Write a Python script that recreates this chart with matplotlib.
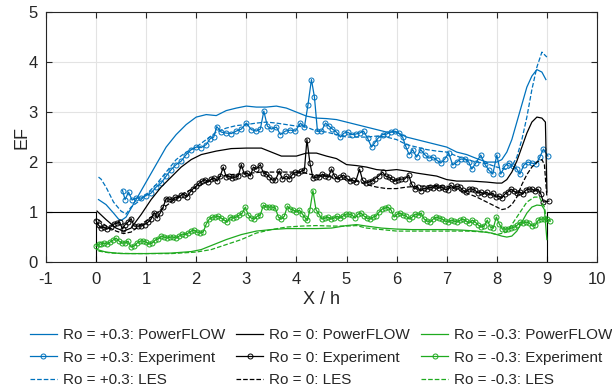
import numpy as np
import matplotlib
matplotlib.use('Agg')
import matplotlib.pyplot as plt

plt.rcParams['font.family'] = ['Liberation Sans', 'DejaVu Sans']
plt.rcParams['axes.unicode_minus'] = False

# ---- colours
c_pos = '#0072BD'
c_zero = '#000000'
c_neg = '#1FAA1F'

# ---- geometry step (wall profile)
geo_x = [-1, 0, 0, 9, 9, 10]
geo_y = [1, 1, 0, 0, 1, 1]

# ---- Ro = +0.3
pos_exp_x = [0.53, 0.58, 0.65, 0.72, 0.80, 0.90, 1.00, 1.10, 1.20, 1.30, 1.40, 1.50, 1.60, 1.70,
             1.80, 1.90, 2.00, 2.10, 2.20, 2.28, 2.35, 2.41, 2.50, 2.60, 2.70, 2.80, 2.90, 3.00,
             3.10, 3.20, 3.28, 3.35, 3.42, 3.50, 3.60, 3.68, 3.78, 3.88, 3.98, 4.08, 4.16, 4.23,
             4.30, 4.36, 4.42, 4.50, 4.58, 4.65, 4.72, 4.80, 4.88, 4.95, 5.02, 5.10, 5.18, 5.26,
             5.34, 5.42, 5.50, 5.56, 5.63, 5.72, 5.80, 5.88, 5.96, 6.04, 6.12, 6.18, 6.25, 6.32,
             6.40, 6.48, 6.56, 6.64, 6.72, 6.80, 6.88, 6.96, 7.04, 7.12, 7.20, 7.28, 7.36, 7.44,
             7.50, 7.58, 7.68, 7.76, 7.84, 7.92, 8.00, 8.08, 8.16, 8.24, 8.32, 8.40, 8.46, 8.54,
             8.62, 8.70, 8.78, 8.86, 8.93, 9.02]
pos_exp_y = [1.43, 1.25, 1.40, 1.24, 1.28, 1.28, 1.33, 1.38, 1.50, 1.58, 1.72, 1.85, 1.95, 2.02,
             2.15, 2.25, 2.30, 2.29, 2.35, 2.47, 2.50, 2.71, 2.60, 2.58, 2.57, 2.62, 2.66, 2.78,
             2.65, 2.62, 2.66, 3.02, 2.72, 2.66, 2.70, 2.55, 2.62, 2.64, 2.62, 2.78, 2.70, 3.14,
             3.65, 3.30, 2.62, 2.62, 2.78, 2.72, 2.66, 2.60, 2.50, 2.58, 2.60, 2.55, 2.56, 2.58,
             2.62, 2.48, 2.30, 2.38, 2.48, 2.55, 2.56, 2.60, 2.62, 2.58, 2.50, 2.32, 2.15, 2.25,
             2.10, 2.25, 2.15, 2.08, 2.10, 2.04, 1.98, 2.06, 2.18, 1.94, 2.00, 2.06, 2.06, 2.00,
             1.86, 1.98, 2.14, 1.96, 1.84, 1.76, 2.14, 1.76, 1.92, 1.98, 1.92, 1.86, 1.76, 1.94,
             2.00, 1.98, 1.96, 2.10, 2.26, 2.12]

pos_pf_x = [0.05, 0.2, 0.35, 0.45, 0.5, 0.6, 0.8, 1.0, 1.2, 1.4, 1.6, 1.8, 2.0, 2.2, 2.4, 2.6,
            2.8, 3.0, 3.2, 3.4, 3.6, 3.8, 4.0, 4.2, 4.4, 4.6, 4.8, 5.0, 5.2, 5.4, 5.6, 5.8, 6.0,
            6.2, 6.4, 6.6, 6.8, 7.0, 7.2, 7.4, 7.6, 7.8, 8.0, 8.1, 8.2, 8.3, 8.4, 8.5, 8.6, 8.7,
            8.8, 8.9, 8.98]
pos_pf_y = [1.25, 1.15, 0.98, 0.86, 0.83, 0.90, 1.25, 1.60, 1.95, 2.30, 2.55, 2.75, 2.90, 2.95,
            2.93, 3.03, 3.08, 3.12, 3.10, 3.10, 3.12, 3.08, 3.00, 2.92, 2.88, 2.87, 2.85, 2.80,
            2.75, 2.70, 2.65, 2.60, 2.60, 2.50, 2.45, 2.40, 2.35, 2.30, 2.20, 2.15, 2.07, 2.00,
            2.00, 2.05, 2.20, 2.45, 2.80, 3.15, 3.50, 3.72, 3.85, 3.80, 3.65]

pos_les_x = [0.05, 0.1, 0.2, 0.35, 0.5, 0.6, 0.7, 0.9, 1.0, 1.2, 1.4, 1.6, 1.8, 2.0, 2.2, 2.4,
             2.6, 2.8, 3.0, 3.2, 3.4, 3.6, 3.8, 4.0, 4.2, 4.4, 4.6, 4.8, 5.0, 5.2, 5.4, 5.6, 5.8,
             6.0, 6.2, 6.4, 6.6, 6.8, 7.0, 7.2, 7.4, 7.6, 7.8, 8.0, 8.2, 8.3, 8.4, 8.5, 8.6, 8.7,
             8.8, 8.9, 9.0]
pos_les_y = [1.70, 1.66, 1.50, 1.20, 1.02, 0.96, 1.10, 1.25, 1.35, 1.55, 1.80, 2.05, 2.20, 2.30,
             2.45, 2.60, 2.68, 2.73, 2.75, 2.78, 2.80, 2.78, 2.75, 2.72, 2.70, 2.62, 2.60, 2.55,
             2.50, 2.50, 2.50, 2.52, 2.50, 2.45, 2.35, 2.30, 2.25, 2.22, 2.20, 2.12, 2.05, 2.00,
             1.97, 1.90, 1.85, 1.92, 2.10, 2.45, 2.90, 3.45, 3.90, 4.20, 4.10]

# ---- Ro = 0
zero_exp_x = [0.00, 0.05, 0.10, 0.16, 0.22, 0.29, 0.35, 0.42, 0.47, 0.53, 0.58, 0.64, 0.70, 0.76,
              0.83, 0.90, 0.97, 1.04, 1.10, 1.16, 1.22, 1.28, 1.34, 1.40, 1.46, 1.52, 1.58, 1.64,
              1.70, 1.76, 1.82, 1.88, 1.94, 2.00, 2.06, 2.12, 2.18, 2.24, 2.30, 2.36, 2.42, 2.48,
              2.54, 2.60, 2.66, 2.72, 2.78, 2.84, 2.90, 2.96, 3.02, 3.08, 3.14, 3.20, 3.28, 3.34,
              3.40, 3.46, 3.52, 3.58, 3.66, 3.72, 3.80, 3.86, 3.92, 3.98, 4.04, 4.10, 4.16, 4.21,
              4.27, 4.33, 4.40, 4.46, 4.52, 4.58, 4.64, 4.70, 4.76, 4.82, 4.88, 4.94, 5.00, 5.06,
              5.12, 5.18, 5.26, 5.32, 5.38, 5.44, 5.50, 5.56, 5.64, 5.72, 5.78, 5.84, 5.90, 5.96,
              6.02, 6.08, 6.16, 6.24, 6.30, 6.36, 6.42, 6.48, 6.54, 6.60, 6.66, 6.72, 6.78, 6.84,
              6.90, 6.96, 7.02, 7.08, 7.14, 7.20, 7.26, 7.32, 7.38, 7.44, 7.50, 7.56, 7.62, 7.68,
              7.74, 7.80, 7.86, 7.92, 7.98, 8.04, 8.10, 8.16, 8.22, 8.28, 8.34, 8.40, 8.46, 8.52,
              8.58, 8.64, 8.70, 8.76, 8.82, 8.88, 8.93, 9.04]
zero_exp_y = [0.83, 0.74, 0.68, 0.70, 0.66, 0.70, 0.76, 0.78, 0.80, 0.66, 0.75, 0.80, 0.87, 0.72,
              0.72, 0.72, 0.75, 0.80, 0.86, 0.99, 0.88, 0.98, 1.10, 1.27, 1.26, 1.24, 1.30, 1.28,
              1.34, 1.35, 1.31, 1.40, 1.47, 1.52, 1.58, 1.62, 1.65, 1.60, 1.66, 1.68, 1.62, 1.72,
              1.90, 1.70, 1.72, 1.68, 1.70, 1.72, 1.95, 1.76, 1.78, 1.72, 1.90, 1.86, 1.95, 1.78,
              1.76, 1.70, 1.64, 1.64, 1.82, 1.66, 1.72, 1.66, 1.75, 1.80, 1.78, 1.82, 1.84, 2.45,
              1.98, 1.68, 1.70, 1.70, 1.76, 1.72, 1.70, 1.86, 1.72, 1.66, 1.70, 1.74, 1.68, 1.62,
              1.64, 1.60, 1.86, 1.64, 1.58, 1.60, 1.62, 1.66, 1.72, 1.80, 1.72, 1.70, 1.66, 1.62,
              1.64, 1.66, 1.66, 1.74, 1.56, 1.46, 1.50, 1.42, 1.48, 1.46, 1.50, 1.48, 1.52, 1.48,
              1.50, 1.46, 1.44, 1.54, 1.48, 1.52, 1.50, 1.44, 1.40, 1.46, 1.46, 1.44, 1.38, 1.40,
              1.36, 1.40, 1.34, 1.38, 1.30, 1.32, 1.28, 1.36, 1.40, 1.46, 1.42, 1.38, 1.40, 1.36,
              1.44, 1.46, 1.46, 1.42, 1.46, 1.36, 1.20, 1.22]

zero_pf_x = [0.02, 0.2, 0.4, 0.55, 0.7, 0.9, 1.1, 1.3, 1.5, 1.7, 1.9, 2.1, 2.4, 2.7, 3.0, 3.3,
             3.5, 3.7, 4.0, 4.2, 4.4, 4.6, 4.8, 5.0, 5.2, 5.4, 5.6, 5.8, 6.0, 6.2, 6.4, 6.6, 6.8,
             7.0, 7.2, 7.5, 7.8, 8.0, 8.1, 8.2, 8.3, 8.4, 8.5, 8.6, 8.7, 8.8, 8.9, 8.97, 9.0]
zero_pf_y = [1.02, 0.85, 0.68, 0.62, 0.68, 0.95, 1.25, 1.50, 1.70, 1.90, 2.05, 2.15, 2.22, 2.27,
             2.28, 2.28, 2.20, 2.12, 2.12, 2.18, 2.18, 2.12, 2.07, 1.95, 1.93, 1.90, 1.85, 1.83,
             1.85, 1.82, 1.78, 1.75, 1.72, 1.65, 1.62, 1.62, 1.60, 1.58, 1.58, 1.65, 1.80, 2.02,
             2.30, 2.58, 2.80, 2.90, 2.88, 2.80, 1.40]

zero_les_x = [0.05, 0.2, 0.4, 0.55, 0.7, 0.9, 1.1, 1.3, 1.5, 1.7, 1.9, 2.1, 2.3, 2.5, 2.7, 3.0,
              3.3, 3.6, 3.9, 4.1, 4.3, 4.6, 4.8, 5.0, 5.2, 5.4, 5.6, 5.8, 6.0, 6.2, 6.5, 6.8, 7.0,
              7.2, 7.4, 7.6, 7.8, 8.0, 8.1, 8.2, 8.3, 8.4, 8.5, 8.6, 8.7, 8.8, 8.9, 8.95, 9.0]
zero_les_y = [0.85, 0.72, 0.62, 0.57, 0.60, 0.75, 0.90, 1.05, 1.20, 1.35, 1.45, 1.55, 1.65, 1.72,
              1.75, 1.77, 1.80, 1.80, 1.80, 1.80, 1.75, 1.72, 1.68, 1.65, 1.62, 1.55, 1.50, 1.47,
              1.47, 1.50, 1.52, 1.53, 1.52, 1.45, 1.38, 1.30, 1.20, 1.10, 1.05, 1.07, 1.15, 1.30,
              1.55, 1.75, 1.90, 2.00, 2.05, 1.95, 1.30]

# ---- Ro = -0.3
neg_exp_x = [0.00, 0.05, 0.10, 0.16, 0.22, 0.28, 0.34, 0.40, 0.46, 0.52, 0.58, 0.64, 0.70, 0.76,
             0.82, 0.88, 0.94, 1.00, 1.06, 1.12, 1.18, 1.24, 1.30, 1.36, 1.42, 1.48, 1.54, 1.60,
             1.66, 1.72, 1.78, 1.84, 1.90, 1.96, 2.02, 2.08, 2.14, 2.20, 2.26, 2.32, 2.38, 2.44,
             2.50, 2.56, 2.62, 2.68, 2.74, 2.80, 2.86, 2.92, 2.98, 3.04, 3.10, 3.16, 3.22, 3.28,
             3.34, 3.40, 3.46, 3.52, 3.58, 3.64, 3.70, 3.76, 3.82, 3.88, 3.94, 4.00, 4.06, 4.12,
             4.18, 4.22, 4.27, 4.33, 4.39, 4.45, 4.51, 4.57, 4.63, 4.69, 4.75, 4.81, 4.87, 4.93,
             4.99, 5.05, 5.11, 5.17, 5.23, 5.29, 5.35, 5.41, 5.47, 5.53, 5.59, 5.65, 5.71, 5.77,
             5.83, 5.89, 5.95, 6.01, 6.07, 6.13, 6.19, 6.25, 6.31, 6.37, 6.43, 6.49, 6.55, 6.61,
             6.67, 6.73, 6.79, 6.85, 6.91, 6.97, 7.03, 7.09, 7.15, 7.21, 7.27, 7.33, 7.39, 7.45,
             7.51, 7.57, 7.63, 7.69, 7.75, 7.81, 7.87, 7.93, 7.99, 8.05, 8.11, 8.17, 8.23, 8.29,
             8.35, 8.41, 8.47, 8.53, 8.59, 8.65, 8.71, 8.77, 8.83, 8.89, 8.95, 9.01, 9.07]
neg_exp_y = [0.32, 0.36, 0.36, 0.38, 0.36, 0.40, 0.44, 0.48, 0.42, 0.38, 0.38, 0.42, 0.30, 0.32,
             0.38, 0.42, 0.42, 0.40, 0.36, 0.38, 0.44, 0.46, 0.52, 0.50, 0.48, 0.50, 0.50, 0.48,
             0.52, 0.56, 0.55, 0.58, 0.62, 0.64, 0.60, 0.58, 0.60, 0.76, 0.86, 0.90, 0.90, 0.92,
             0.88, 0.84, 0.80, 0.90, 0.88, 0.90, 0.94, 0.98, 1.10, 0.94, 0.88, 0.86, 0.92, 0.94,
             1.14, 1.10, 1.10, 1.10, 1.08, 0.90, 0.86, 0.92, 1.12, 1.06, 1.04, 1.00, 1.04, 0.96,
             0.88, 0.84, 1.05, 1.43, 1.05, 0.96, 0.86, 0.88, 0.90, 0.86, 0.88, 0.92, 0.88, 0.92,
             0.96, 0.96, 0.94, 0.88, 0.96, 0.98, 0.92, 0.88, 0.86, 0.90, 0.92, 1.00, 1.06, 1.08,
             1.10, 1.04, 0.90, 0.96, 0.98, 0.94, 0.92, 0.86, 0.90, 0.96, 0.94, 0.98, 0.86, 0.82,
             0.80, 0.86, 0.90, 0.88, 0.86, 0.82, 0.80, 0.84, 0.82, 0.80, 0.84, 0.86, 0.82, 0.78,
             0.84, 0.80, 0.74, 0.70, 0.72, 0.84, 0.70, 0.68, 0.90, 0.76, 0.66, 0.66, 0.66, 0.68,
             0.70, 0.74, 0.80, 0.78, 0.80, 0.78, 0.72, 0.74, 0.84, 0.86, 0.86, 0.86, 0.82]

neg_pf_x = [0.02, 0.2, 0.5, 1.0, 1.5, 1.9, 2.1, 2.3, 2.6, 2.9, 3.2, 3.5, 3.8, 4.1, 4.4, 4.7,
            5.0, 5.2, 5.4, 5.7, 6.0, 6.3, 6.6, 7.0, 7.3, 7.6, 7.9, 8.1, 8.2, 8.3, 8.4, 8.5, 8.6,
            8.7, 8.8, 8.9, 8.95, 9.0]
neg_pf_y = [0.25, 0.20, 0.17, 0.17, 0.18, 0.21, 0.25, 0.33, 0.45, 0.55, 0.62, 0.65, 0.67, 0.67,
            0.67, 0.68, 0.73, 0.75, 0.72, 0.68, 0.66, 0.65, 0.65, 0.65, 0.64, 0.62, 0.58, 0.52,
            0.50, 0.52, 0.62, 0.80, 0.98, 1.10, 1.14, 1.13, 1.05, 0.45]

neg_les_x = [0.05, 0.3, 0.7, 1.0, 1.5, 2.0, 2.3, 2.6, 2.9, 3.2, 3.5, 3.8, 4.1, 4.4, 4.7, 5.0,
             5.2, 5.4, 5.7, 6.0, 6.3, 6.6, 7.0, 7.4, 7.8, 8.0, 8.2, 8.3, 8.4, 8.5, 8.6, 8.75,
             8.85, 8.95, 9.0]
neg_les_y = [0.22, 0.18, 0.17, 0.17, 0.17, 0.20, 0.25, 0.35, 0.45, 0.58, 0.65, 0.70, 0.72, 0.73,
             0.72, 0.72, 0.73, 0.68, 0.65, 0.62, 0.62, 0.62, 0.62, 0.62, 0.60, 0.55, 0.60, 0.75,
             0.90, 1.05, 1.20, 1.30, 1.30, 1.10, 0.80]

fig = plt.figure(figsize=(6.12, 3.9), dpi=100)
ax = fig.add_axes([0.075, 0.328, 0.9005, 0.641])

ax.plot(geo_x, geo_y, color='k', lw=0.8)

lw = 0.9
h = []
h += ax.plot(pos_pf_x, pos_pf_y, color=c_pos, lw=lw, label='Ro = +0.3: PowerFLOW')
h += ax.plot(pos_exp_x, pos_exp_y, color=c_pos, lw=lw, marker='o', ms=3.6, mfc='none',
             mew=0.7, label='Ro = +0.3: Experiment')
h += ax.plot(pos_les_x, pos_les_y, color=c_pos, lw=lw, ls='--', label='Ro = +0.3: LES')
h += ax.plot(zero_pf_x, zero_pf_y, color=c_zero, lw=lw, label='Ro = 0: PowerFLOW')
h += ax.plot(zero_exp_x, zero_exp_y, color=c_zero, lw=lw, marker='o', ms=3.6, mfc='none',
             mew=0.7, label='Ro = 0: Experiment')
h += ax.plot(zero_les_x, zero_les_y, color=c_zero, lw=lw, ls='--', label='Ro = 0: LES')
h += ax.plot(neg_pf_x, neg_pf_y, color=c_neg, lw=lw, label='Ro = -0.3: PowerFLOW')
h += ax.plot(neg_exp_x, neg_exp_y, color=c_neg, lw=lw, marker='o', ms=3.6, mfc='none',
             mew=0.7, label='Ro = -0.3: Experiment')
h += ax.plot(neg_les_x, neg_les_y, color=c_neg, lw=lw, ls='--', label='Ro = -0.3: LES')

ax.set_xlim(-1, 10)
ax.set_ylim(0, 5)
ax.set_xticks(range(-1, 11))
ax.set_yticks(range(0, 6))
ax.grid(True, color='#e3e3e3', lw=0.8)
ax.set_axisbelow(True)
for s in ax.spines.values():
    s.set_color('#262626')
    s.set_linewidth(0.8)
ax.tick_params(direction='in', top=True, right=True, labelsize=12, colors='#262626',
               length=4, width=0.8)
ax.tick_params(axis='x', pad=7)
ax.tick_params(axis='y', pad=6)
ax.set_xlabel('X / h', fontsize=13, color='#262626', labelpad=3)
ax.set_ylabel('EF', fontsize=13, color='#262626', labelpad=-2)

leg = fig.legend(handles=h, loc='center', bbox_to_anchor=(0.525, 0.083), ncol=3,
                 frameon=False, fontsize=11, handlelength=1.75, handletextpad=0.4,
                 columnspacing=0.75, labelspacing=0.55, borderpad=0.1)
for t in leg.get_texts():
    t.set_color('#262626')

fig.savefig('out.png', dpi=100)
